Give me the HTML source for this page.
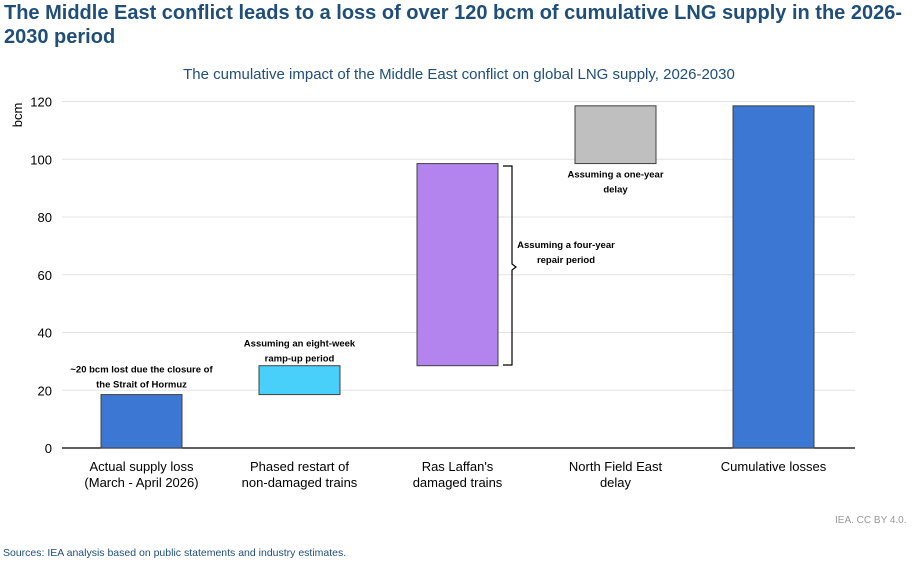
<!DOCTYPE html>
<html><head><meta charset="utf-8"><style>
body{margin:0;background:#fff;width:917px;height:562px;overflow:hidden;font-family:"Liberation Sans",sans-serif}
.title{position:absolute;left:4px;top:1px;width:908px;font-weight:bold;font-size:20px;line-height:24px;color:#1f4e79}
</style></head><body>
<div class="title">The Middle East conflict leads to a loss of over 120 bcm of cumulative LNG supply in the 2026-2030 period</div>
<svg width="917" height="562" style="position:absolute;left:0;top:0">
<text x="459" y="79" text-anchor="middle" font-size="15" fill="#1f4e79">The cumulative impact of the Middle East conflict on global LNG supply, 2026-2030</text>
<text transform="translate(22,115) rotate(-90)" text-anchor="middle" font-size="13" fill="#000">bcm</text>
<g id="grid"></g><g id="bars"></g><g id="labels"></g>
<path d="M503,166 H512 V264 L516,267 L512,270 V365 H503" fill="none" stroke="#000" stroke-width="1.2"/>
<text x="835" y="523" font-size="10" fill="#999">IEA. CC BY 4.0.</text>
<text x="3" y="556" font-size="10.5" fill="#1f4e79">Sources: IEA analysis based on public statements and industry estimates.</text>
</svg>
<script>
const categories=[["Actual supply loss","(March - April 2026)"],["Phased restart of","non-damaged trains"],["Ras Laffan's","damaged trains"],["North Field East","delay"],["Cumulative losses"]];
const bases=[0,18.5,28.5,98.5,0];
const values=[18.5,10,70,20,118.5];
const colors=["#3c78d3","#48d0fb","#b383ee","#bfbfbf","#3c78d3"];
const ticks=[0,20,40,60,80,100,120];
const notes=[["~20 bcm lost due the closure of","the Strait of Hormuz"],["Assuming an eight-week","ramp-up period"],["Assuming a four-year","repair period"],["Assuming a one-year","delay"],[]];
const NS="http://www.w3.org/2000/svg";
const y0=448,sc=346.5/120,x0=62,x1=855,step=158,first=141.5,bw=81;
const y=v=>y0-v*sc, xc=i=>first+i*step;
function mk(t,a,p){const e=document.createElementNS(NS,t);for(const k in a)e.setAttribute(k,a[k]);p.appendChild(e);return e;}
const g=document.getElementById('grid'),b=document.getElementById('bars'),l=document.getElementById('labels');
ticks.forEach(t=>{
 const ln=mk('line',{x1:x0,x2:x1,y1:y(t),y2:y(t),stroke:t?'#e3e3e3':'#000','stroke-width':t?1:1.3},g);
 
 
 const tx=mk('text',{x:52,y:y(t)+5,'text-anchor':'end','font-size':13},g);tx.textContent=t;
 
 
});
values.forEach((v,i)=>{
 const r=mk('rect',{x:xc(i)-bw/2,y:y(bases[i]+v),width:bw,height:v*sc,fill:colors[i],stroke:'#404040','stroke-width':1},b);
 
 
 categories[i].forEach((s,j)=>{const t=mk('text',{x:xc(i),y:471+j*16,'text-anchor':'middle','font-size':13},l);t.textContent=s;
  
  });
});
const notePos=[[xc(0),y(18.5)-22],[xc(1),y(28.5)-19],[566,248],[xc(3),y(98.5)+14]];
notePos.forEach((p,i)=>{notes[i].forEach((s,j)=>{const t=mk('text',{x:p[0],y:p[1]+j*15,'text-anchor':'middle','font-size':9.5,'font-weight':'bold'},l);t.textContent=s;
 
 });});
</script>
</body></html>
